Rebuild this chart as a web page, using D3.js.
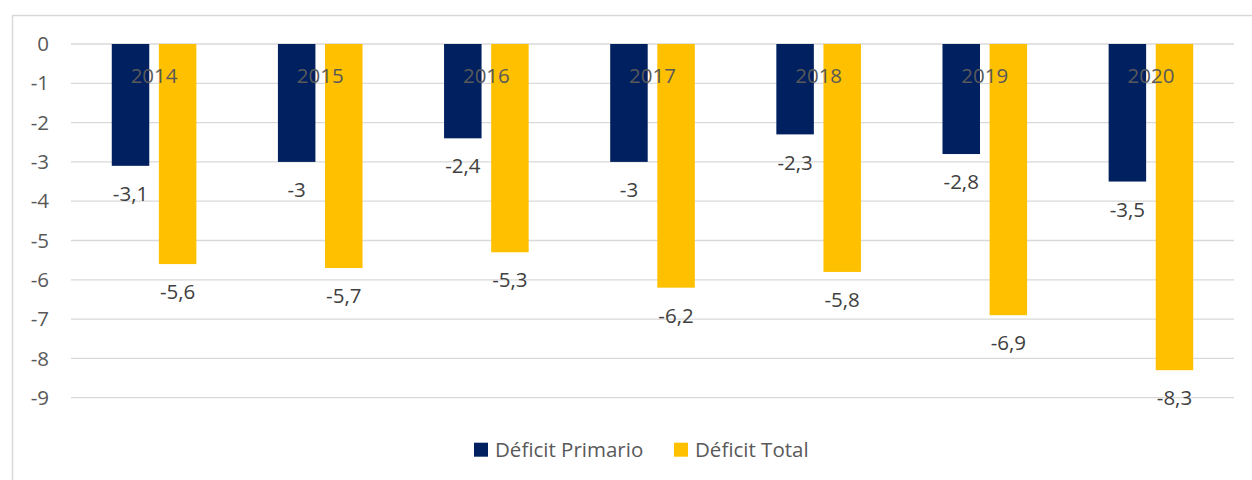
<!DOCTYPE html>
<html>
<head>
<meta charset="utf-8">
<script src="https://cdn.jsdelivr.net/npm/d3@7"></script>
<style>
  body { margin: 0; background: #fff; }
  svg text { font-family: "Open Sans", sans-serif; }
</style>
</head>
<body>
<div id="chart"></div>
<script>
const years = ["2014", "2015", "2016", "2017", "2018", "2019", "2020"];
const primario = [-3.1, -3, -2.4, -3, -2.3, -2.8, -3.5];
const total = [-5.6, -5.7, -5.3, -6.2, -5.8, -6.9, -8.3];
const seriesNames = ["Déficit Primario", "Déficit Total"];
const yTicks = [0, -1, -2, -3, -4, -5, -6, -7, -8, -9];

const width = 1252, height = 480;
const colors = ["#002060", "#FFC000"];
const fontSize = 20.5;

const svg = d3.select("#chart").append("svg")
    .attr("width", width)
    .attr("height", height);

// chart border (cut by the image edge on the right and bottom)
svg.append("rect")
    .attr("x", 12.5).attr("y", 15.5)
    .attr("width", 1300).attr("height", 600)
    .attr("fill", "none")
    .attr("stroke", "#D9D9D9")
    .attr("stroke-width", 1.5);

const x0 = d3.scaleBand().domain(years).range([71, 1234]);
const y = d3.scaleLinear().domain([0, -9]).range([44, 397.7]);

// gridlines
svg.append("g").selectAll("line")
    .data(yTicks)
    .join("line")
    .attr("x1", 71).attr("x2", 1234)
    .attr("y1", d => y(d)).attr("y2", d => y(d))
    .attr("stroke", "#D9D9D9")
    .attr("stroke-width", 1.3);

// y axis labels
svg.append("g").selectAll("text")
    .data(yTicks)
    .join("text")
    .attr("x", 49)
    .attr("y", d => y(d))
    .attr("dy", "0.35em")
    .attr("text-anchor", "end")
    .attr("fill", "#595959")
    .attr("font-size", fontSize)
    .text(d => d);

const barW = 37.5, gap = 9.6;
const offsets = [-(gap / 2 + barW), gap / 2];
const fmt = v => String(v).replace(".", ",");

const series = [primario, total];
series.forEach((vals, s) => {
    const g = svg.append("g");
    g.selectAll("rect")
        .data(vals)
        .join("rect")
        .attr("x", (d, i) => x0(years[i]) + x0.bandwidth() / 2 + offsets[s])
        .attr("y", y(0))
        .attr("width", barW)
        .attr("height", d => y(d) - y(0))
        .attr("fill", colors[s]);

    g.selectAll("text")
        .data(vals)
        .join("text")
        .attr("x", (d, i) => x0(years[i]) + x0.bandwidth() / 2 + offsets[s] + barW / 2)
        .attr("y", d => y(d) + 28)
        .attr("dy", "0.35em")
        .attr("text-anchor", "middle")
        .attr("fill", "#404040")
        .attr("font-size", fontSize)
        .text(d => fmt(d));
});

// category labels next to zero line
svg.append("g").selectAll("text")
    .data(years)
    .join("text")
    .attr("x", d => x0(d) + x0.bandwidth() / 2)
    .attr("y", 75.5)
    .attr("dy", "0.35em")
    .attr("text-anchor", "middle")
    .attr("fill", "#595959")
    .attr("font-size", fontSize)
    .text(d => d);

// legend
const legendX = [474, 674];
const legend = svg.append("g").selectAll("g")
    .data(seriesNames)
    .join("g")
    .attr("transform", (d, i) => `translate(${legendX[i]},449.7)`);
legend.append("rect")
    .attr("x", 0).attr("y", -7)
    .attr("width", 14).attr("height", 14)
    .attr("fill", (d, i) => colors[i]);
legend.append("text")
    .attr("x", 21)
    .attr("dy", "0.35em")
    .attr("fill", "#595959")
    .attr("font-size", fontSize)
    .text(d => d);
</script>
</body>
</html>
